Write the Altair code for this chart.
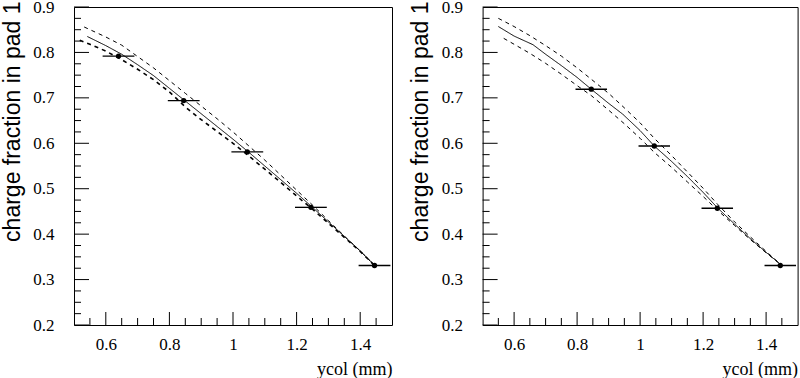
import altair as alt
import pandas as pd

# ---------------- data ----------------
# Left panel
L_pts_x = [0.64, 0.845, 1.045, 1.245, 1.445]
L_pts_y = [0.792, 0.694, 0.581, 0.459, 0.331]
L_xerr = [0.05, 0.05, 0.05, 0.05, 0.05]

L_fit_x = [0.542, 0.6, 0.65, 0.7, 0.75, 0.8, 0.85, 0.9, 0.95, 1.0, 1.05, 1.1, 1.15, 1.2, 1.25, 1.3, 1.35, 1.4, 1.445]
L_fit_y = [0.835, 0.815, 0.796, 0.773, 0.749, 0.721, 0.693, 0.665, 0.637, 0.609, 0.580, 0.550, 0.520, 0.490, 0.459, 0.427, 0.395, 0.363, 0.332]
L_up_x = [0.532, 0.6, 0.65, 0.7, 0.75, 0.8, 0.85, 0.9, 0.95, 1.0, 1.05, 1.1, 1.15, 1.2, 1.25, 1.3, 1.35, 1.4, 1.445]
L_up_y = [0.856, 0.834, 0.816, 0.791, 0.766, 0.738, 0.710, 0.682, 0.654, 0.625, 0.594, 0.563, 0.530, 0.497, 0.464, 0.430, 0.396, 0.363, 0.331]
L_lo_x = [0.518, 0.55, 0.6, 0.65, 0.7, 0.75, 0.8, 0.85, 0.9, 0.95, 1.0, 1.05, 1.1, 1.15, 1.2, 1.25, 1.3, 1.35, 1.4, 1.445]
L_lo_y = [0.827, 0.818, 0.803, 0.784, 0.763, 0.740, 0.713, 0.680, 0.652, 0.626, 0.600, 0.572, 0.543, 0.514, 0.484, 0.455, 0.424, 0.393, 0.362, 0.331]

# Right panel
R_pts_x = [0.845, 1.045, 1.245, 1.445]
R_pts_y = [0.719, 0.594, 0.457, 0.331]
R_xerr = [0.05, 0.05, 0.05, 0.05]

R_fit_x = [0.55, 0.6, 0.66, 0.7, 0.75, 0.8, 0.845, 0.9, 0.945, 1.0, 1.045, 1.1, 1.15, 1.2, 1.247, 1.3, 1.35, 1.4, 1.45]
R_fit_y = [0.857, 0.836, 0.817, 0.796, 0.771, 0.745, 0.719, 0.688, 0.664, 0.628, 0.594, 0.560, 0.527, 0.492, 0.457, 0.422, 0.390, 0.360, 0.331]
R_up_x = [0.55, 0.6, 0.65, 0.7, 0.75, 0.8, 0.845, 0.9, 0.95, 1.0, 1.045, 1.1, 1.15, 1.2, 1.247, 1.3, 1.35, 1.4, 1.45]
R_up_y = [0.875, 0.857, 0.837, 0.815, 0.792, 0.766, 0.741, 0.710, 0.678, 0.645, 0.611, 0.573, 0.537, 0.501, 0.465, 0.427, 0.394, 0.362, 0.331]
R_lo_x = [0.567, 0.6, 0.65, 0.7, 0.75, 0.8, 0.845, 0.9, 0.95, 1.0, 1.045, 1.1, 1.15, 1.2, 1.247, 1.3, 1.35, 1.4, 1.45]
R_lo_y = [0.831, 0.818, 0.798, 0.776, 0.752, 0.727, 0.705, 0.673, 0.643, 0.611, 0.580, 0.547, 0.515, 0.483, 0.452, 0.419, 0.388, 0.359, 0.331]

# Axis ticks
X_MAJOR = [0.6, 0.8, 1.0, 1.2, 1.4]
X_MINOR = [0.55, 0.65, 0.7, 0.75, 0.85, 0.9, 0.95, 1.05, 1.1, 1.15, 1.25, 1.3, 1.35, 1.45]
Y_MAJOR = [0.2, 0.3, 0.4, 0.5, 0.6, 0.7, 0.8, 0.9]
Y_MINOR = [0.225, 0.25, 0.275, 0.325, 0.35, 0.375, 0.425, 0.45, 0.475, 0.525, 0.55, 0.575,
           0.625, 0.65, 0.675, 0.725, 0.75, 0.775, 0.825, 0.85, 0.875]

X_DOMAIN = [0.5, 1.5]
Y_DOMAIN = [0.2, 0.9]
PLOT_H = 318
SERIF = "Liberation Serif"
SANS = "Liberation Sans"


def panel(px, py, pe, curves, w):
    xs = alt.Scale(domain=X_DOMAIN, nice=False, zero=False)
    ys = alt.Scale(domain=Y_DOMAIN, nice=False, zero=False)

    xaxis = alt.Axis(values=X_MAJOR, format="~g", ticks=False, domain=False, grid=False,
                     labelPadding=11, labelFlush=False, labelOverlap=False,
                     title="ycol (mm)", titleAlign="right", titleFontSize=18,
                     titleBaseline="alphabetic", titleX=w, titleY=49)
    yaxis = alt.Axis(values=Y_MAJOR, format=".1f", ticks=False, domain=False, grid=False,
                     labelPadding=20, labelFlush=False, labelOverlap=False,
                     title="charge fraction in pad 1", titleFont=SANS, titleFontSize=23,
                     titleAngle=-90, titleAlign="right", titleBaseline="alphabetic",
                     titleX=-55, titleY=-6)

    def X(f):
        return alt.X(f, scale=xs, axis=xaxis)

    def Y(f):
        return alt.Y(f, scale=ys, axis=yaxis)

    layers = []
    # curves
    for cx, cy, dash, sw in curves:
        df = pd.DataFrame({"x": cx, "y": cy})
        m = alt.Chart(df).mark_line(color="black", strokeWidth=sw,
                                    strokeDash=dash if dash else [1, 0])
        layers.append(m.encode(x=X("x:Q"), y=Y("y:Q"), order="x:Q"))

    pts = pd.DataFrame({"x": px, "y": py, "e": pe})
    pts["lo"] = pts["x"] - pts["e"]
    pts["hi"] = pts["x"] + pts["e"]
    layers.append(alt.Chart(pts).mark_rule(color="black", strokeWidth=1.3).encode(
        x=X("lo:Q"), x2="hi:Q", y=Y("y:Q")))
    layers.append(alt.Chart(pts).mark_circle(color="black", opacity=1, size=28).encode(
        x=X("x:Q"), y=Y("y:Q")))

    # inward ticks
    ymaj = pd.DataFrame({"y": Y_MAJOR})
    ymin = pd.DataFrame({"y": Y_MINOR})
    xmaj = pd.DataFrame({"x": X_MAJOR})
    xmin = pd.DataFrame({"x": X_MINOR})
    layers.append(alt.Chart(ymaj).mark_rule(color="black", strokeWidth=1).encode(
        y=Y("y:Q"), x=alt.value(0), x2=alt.value(15)))
    layers.append(alt.Chart(ymin).mark_rule(color="black", strokeWidth=1).encode(
        y=Y("y:Q"), x=alt.value(0), x2=alt.value(7)))
    layers.append(alt.Chart(xmaj).mark_rule(color="black", strokeWidth=1).encode(
        x=X("x:Q"), y=alt.value(PLOT_H), y2=alt.value(PLOT_H - 13)))
    layers.append(alt.Chart(xmin).mark_rule(color="black", strokeWidth=1).encode(
        x=X("x:Q"), y=alt.value(PLOT_H), y2=alt.value(PLOT_H - 7)))

    return alt.layer(*layers).properties(width=w, height=PLOT_H)


left = panel(L_pts_x, L_pts_y, L_xerr, [
    (L_fit_x, L_fit_y, None, 1),
    (L_up_x, L_up_y, [4, 4], 1),
    (L_lo_x, L_lo_y, [4, 4], 1.6),
], 318)

right = panel(R_pts_x, R_pts_y, R_xerr, [
    (R_fit_x, R_fit_y, None, 1),
    (R_up_x, R_up_y, [4, 4], 1),
    (R_lo_x, R_lo_y, [4, 4], 1),
], 315)

chart = alt.hconcat(left, right, spacing=90.6, bounds="flush").properties(
    padding={"left": 0, "top": -3, "right": 0, "bottom": 0},
    background="white",
).configure_view(
    stroke="black", strokeWidth=1
).configure_axis(
    labelFont=SERIF, labelFontSize=17, labelColor="black",
    titleFont=SERIF, titleFontWeight="normal", titleColor="black",
)

chart.save("out.html", embed_options={"renderer": "svg", "actions": False})
